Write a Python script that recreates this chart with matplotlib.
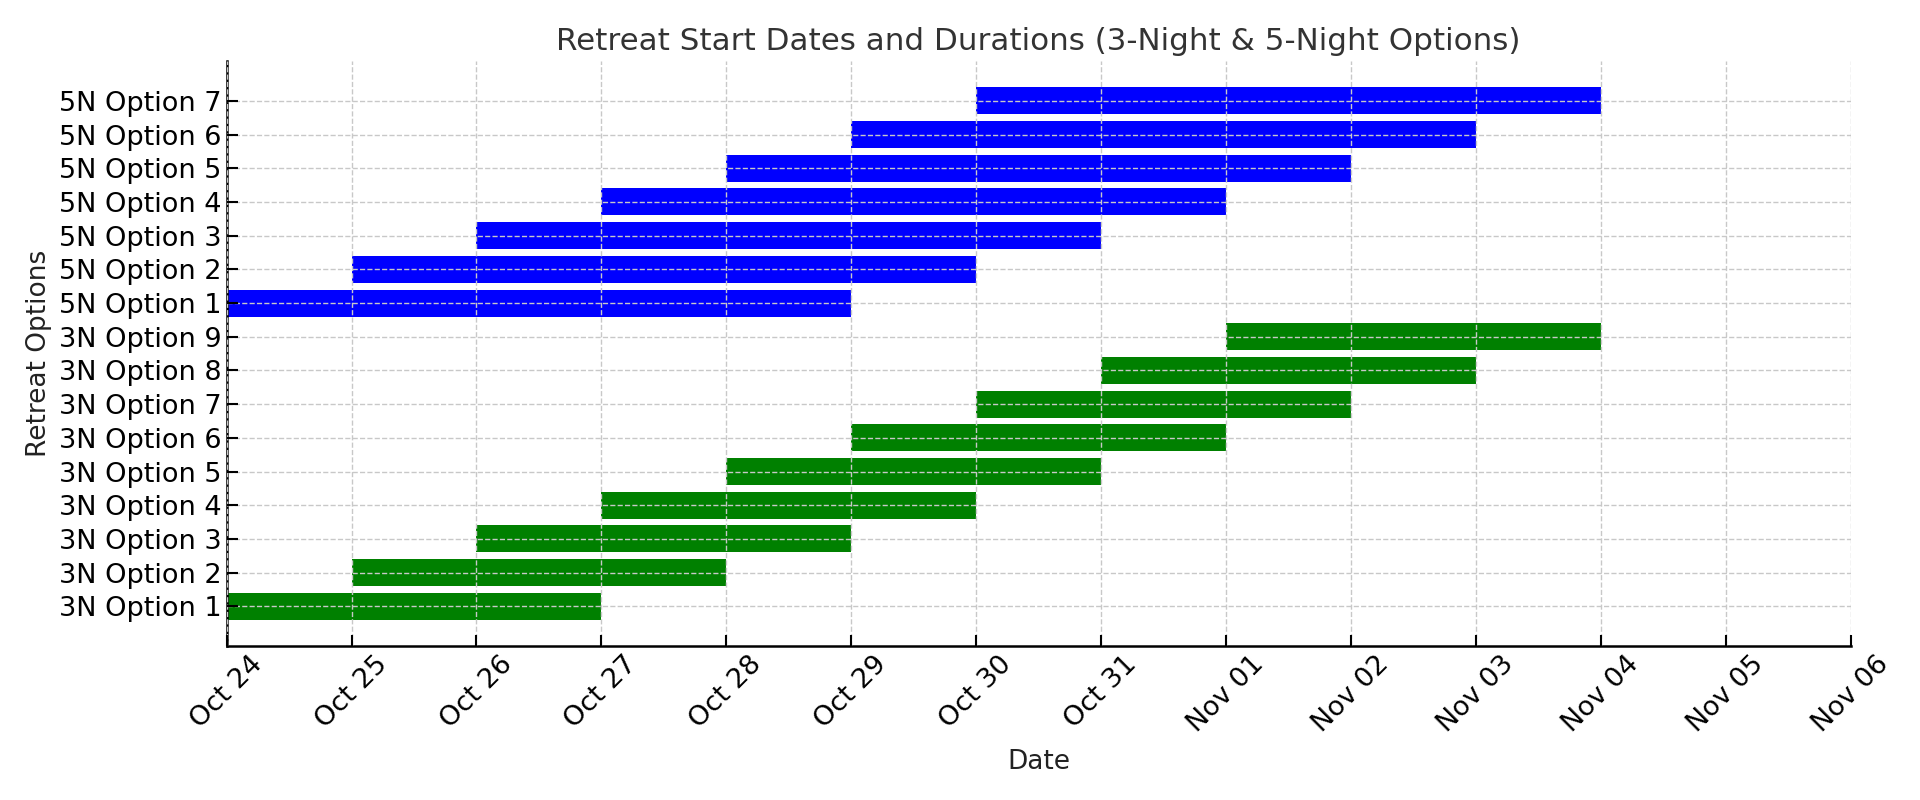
import pandas as pd
import matplotlib
matplotlib.use("Agg")
import matplotlib.pyplot as plt
import matplotlib.dates as mdates

# ── data ──────────────────────────────────────────────────────────────────────
labels_3n = [f"3N Option {i}" for i in range(1, 10)]
starts_3n = ["2023-10-24", "2023-10-25", "2023-10-26", "2023-10-27", "2023-10-28",
             "2023-10-29", "2023-10-30", "2023-10-31", "2023-11-01"]
nights_3n = [3, 3, 3, 3, 3, 3, 3, 3, 3]

labels_5n = [f"5N Option {i}" for i in range(1, 8)]
starts_5n = ["2023-10-24", "2023-10-25", "2023-10-26", "2023-10-27", "2023-10-28",
             "2023-10-29", "2023-10-30"]
nights_5n = [5, 5, 5, 5, 5, 5, 5]

x_range = ["2023-10-24", "2023-11-06"]

# ── plot ──────────────────────────────────────────────────────────────────────
fig, ax = plt.subplots(figsize=(19.2, 8), dpi=100)

labels = labels_3n + labels_5n
starts = mdates.date2num(pd.to_datetime(starts_3n + starts_5n))
widths = nights_3n + nights_5n
colors = ["green"] * len(labels_3n) + ["blue"] * len(labels_5n)

ax.barh(range(len(labels)), widths, left=starts, color=colors, height=0.8)

ax.set_yticks(range(len(labels)))
ax.set_yticklabels(labels, fontsize=19.5)

lo, hi = mdates.date2num(pd.to_datetime(x_range))
ax.set_xlim(lo, hi)
ax.xaxis.set_major_locator(mdates.DayLocator())
ax.xaxis.set_major_formatter(mdates.DateFormatter("%b %d"))
plt.setp(ax.get_xticklabels(), rotation=45, fontsize=19.5)

ax.set_axisbelow(False)
ax.grid(True, linestyle="--", color="#c8c8c8", linewidth=1.0)
ax.tick_params(direction="in", length=8, width=1.5)

for s in ["top", "right"]:
    ax.spines[s].set_visible(False)
for s in ["left", "bottom"]:
    ax.spines[s].set_linewidth(1.8)

ax.set_title("Retreat Start Dates and Durations (3-Night & 5-Night Options)",
             fontsize=22.3, color="#333333", pad=8)
ax.set_xlabel("Date", fontsize=19, color="#222222", labelpad=8)
ax.set_ylabel("Retreat Options", fontsize=19, color="#222222", labelpad=5)

fig.subplots_adjust(left=0.118, right=0.964, top=0.924, bottom=0.192)
fig.savefig("out.png", dpi=100)
